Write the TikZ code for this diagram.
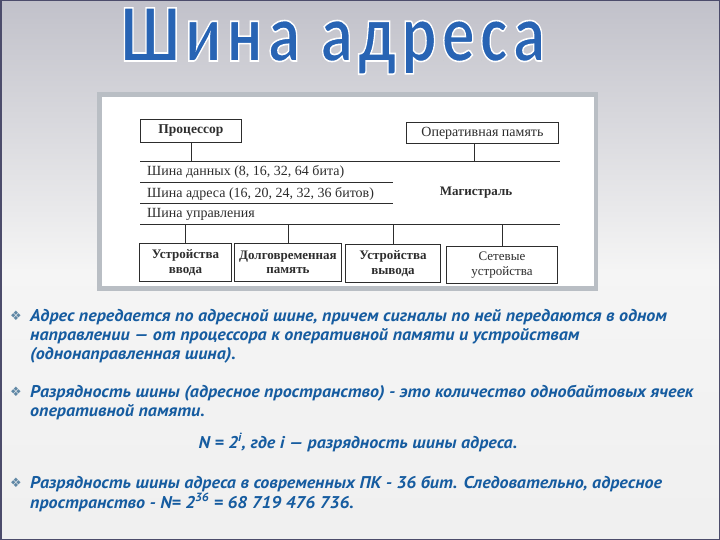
\documentclass[tikz,border=0pt]{standalone}
\usepackage{fontspec}
\setmainfont{Liberation Serif}
\newfontfamily\slidefont{PT Sans}
\newfontfamily\titlefont[LetterSpace=8]{Carlito}
\newfontfamily\symfont{DejaVu Sans}
\usetikzlibrary{positioning,calc}

\definecolor{slideblue}{RGB}{22,92,160}
\definecolor{titleblue}{RGB}{40,100,180}
\definecolor{bulletgray}{RGB}{95,135,165}
\definecolor{framegray}{RGB}{185,190,196}
\definecolor{scanink}{RGB}{45,45,45}

% outlined title letters (fill plus white stroke)
\newcommand{\outlinetext}[1]{\special{pdf:literal direct 2 Tr 1.6 w 1 1 1 RG}#1\special{pdf:literal direct 0 Tr}}
% slightly wider slide text
\newcommand{\widetext}[1]{\scalebox{1.06}[1]{#1}}

\tikzset{
  unitbox/.style={draw=scanink,line width=0.9pt,fill=white,anchor=north west,
    inner sep=1pt,align=center,font=\fontsize{13}{14.5}\selectfont\bfseries,text=scanink},
  busline/.style={draw=scanink,line width=0.9pt},
  rowtext/.style={anchor=base west,inner sep=0pt,font=\fontsize{14}{16}\selectfont,text=scanink},
  bullettext/.style={anchor=base west,inner sep=0pt,font=\slidefont\bfseries\itshape\fontsize{17}{18}\selectfont,text=slideblue},
  bulletmark/.style={anchor=base west,inner sep=0pt,font=\symfont\fontsize{13}{13}\selectfont,text=bulletgray}
}

\begin{document}
\begin{tikzpicture}[x=1pt,y=-1pt]
\useasboundingbox (0,0) rectangle (720,540);
% slide background
\shade[top color=black!5!blue!8!gray!45,bottom color=gray!12,middle color=white!92!gray]
  (0,0) rectangle (720,540);
\draw[line width=3pt,color=black!70!blue!40!gray] (0,0) rectangle (720,540);

% title
\node[anchor=base,inner sep=0pt,text=titleblue,font=\titlefont\bfseries\fontsize{82}{82}\selectfont]
  (title) at (333,61) {\scalebox{0.8}[1]{\outlinetext{Шина адреса}}};

% scanned picture frame
\fill[framegray] (97,92) rectangle (598,291);
\fill[white] (102,97) rectangle (594,286);

% units on the bus
\node[unitbox,minimum width=101pt,minimum height=23pt,font=\fontsize{13.5}{15}\selectfont\bfseries] (cpu) at (140,119) {Процессор};
\node[unitbox,minimum width=152pt,minimum height=21pt,font=\fontsize{14}{15}\selectfont] (ram) at (406,122) {Оперативная память};

% the bus
\coordinate (dtop) at (140,161);
\coordinate (dmid) at (140,182);
\coordinate (amid) at (140,203);
\coordinate (cbot) at (140,224);
\draw[busline] (dtop) -- ++(420,0);
\draw[busline] (dmid) -- ++(253,0);
\draw[busline] (amid) -- ++(253,0);
\draw[busline] (cbot) -- ++(420,0);
\node[rowtext] (dbus) at (147,176) {Шина данных (8, 16, 32, 64 бита)};
\node[rowtext] (abus) at (147,197) {Шина адреса (16, 20, 24, 32, 36 битов)};
\node[rowtext] (cbus) at (147,218) {Шина управления};
\node[inner sep=0pt,font=\fontsize{13}{15}\selectfont\bfseries,text=scanink] (bus) at (476,193) {Магистраль};

\node[unitbox,minimum width=92pt,minimum height=38pt] (in) at (139,243) {Устройства\\ввода};
\node[unitbox,minimum width=107pt,minimum height=38pt] (hdd) at (234,243) {Долговременная\\память};
\node[unitbox,minimum width=95pt,minimum height=38pt] (out) at (345,244) {Устройства\\вывода};
\node[unitbox,minimum width=111pt,minimum height=37pt,font=\fontsize{13}{14.5}\selectfont] (net) at (446,246) {Сетевые\\устройства};

\draw[busline] (cpu.south) -- (cpu.south |- dtop);
\draw[busline] ($(ram.south)+(-8,0)$) -- ($(ram.south |- dtop)+(-8,0)$);
\foreach \u in {in,hdd,out,net}
  \draw[busline] (\u.north) -- (\u.north |- cbot);

% bullet points
\node[bulletmark] (m1) at (10,320) {❖};
\node[bullettext] (t11) at (30,321) {\widetext{Адрес передается по адресной шине, причем сигналы по ней передаются в одном}};
\node[bullettext] (t12) at (30,340) {\widetext{направлении — от процессора к оперативной памяти и устройствам}};
\node[bullettext] (t13) at (30,359) {\widetext{(однонаправленная шина).}};

\node[bulletmark] (m2) at (10,396) {❖};
\node[bullettext] (t21) at (30,397) {\widetext{Разрядность шины (адресное пространство) - это количество однобайтовых ячеек}};
\node[bullettext] (t22) at (30,416) {\widetext{оперативной памяти.}};
\node[bullettext,anchor=base] (f2) at (358,448) {\widetext{N = 2\smash{\textsuperscript{i}}, где i — разрядность шины адреса.}};

\node[bulletmark] (m3) at (10,487) {❖};
\node[bullettext] (t31) at (30,488) {\widetext{Разрядность шины адреса в современных ПК - 36 бит. Следовательно, адресное}};
\node[bullettext] (t32) at (30,508) {\widetext{пространство - N= 2\smash{\textsuperscript{36}} = 68 719 476 736.}};
\end{tikzpicture}
\end{document}
